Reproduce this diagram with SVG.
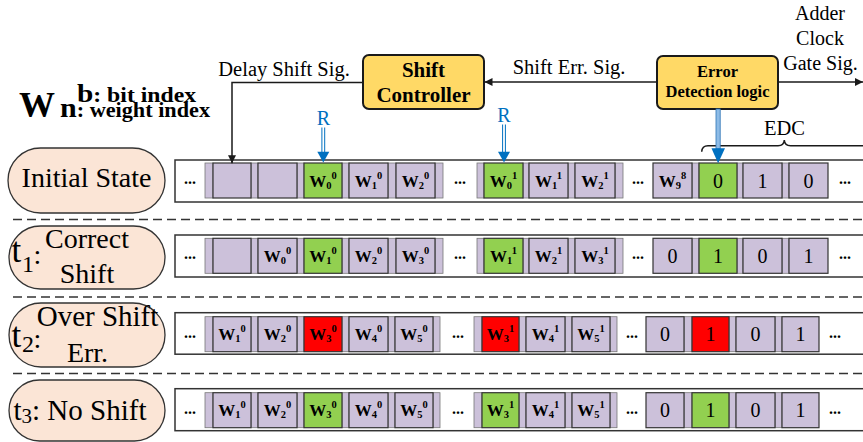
<svg xmlns="http://www.w3.org/2000/svg" width="863" height="442" viewBox="0 0 863 442" font-family="Liberation Serif, DejaVu Serif, serif">
<style>
text{font-family:Liberation Serif, DejaVu Serif, serif;fill:#000}
.bd{font-weight:bold}
.box{fill:#FFD966;stroke:#1a1a1a;stroke-width:2}
.oval{fill:#FBE5D6;stroke:#333;stroke-width:1.3}
.row{fill:#fff;stroke:#333;stroke-width:1.5}
.c{fill:#CCC1DA;stroke:#333;stroke-width:1.2}
.g{fill:#92D050}
.r{fill:#FF0000}
.s{fill:#CCC1DA;stroke:#777;stroke-width:0.8}
.dash{stroke:#333;stroke-width:1.5;stroke-dasharray:9 5;fill:none}
.w{font-size:17px;font-weight:bold;text-anchor:middle}
.sm{font-size:10.5px}
.d{font-size:20px;text-anchor:middle}
.dots{font-size:16px;font-weight:bold;text-anchor:middle}
.lbl{font-size:20.5px}
.conn{stroke:#1a1a1a;stroke-width:1.5;fill:none}
.blue{stroke:#0070C0;stroke-width:1;fill:none}
.bh{fill:#0070C0}
text.bt{fill:#0070C0}
</style>
<defs>
<marker id="ah" viewBox="0 0 10 10" refX="10" refY="5" markerWidth="8" markerHeight="8" markerUnits="userSpaceOnUse" orient="auto">
<path d="M0,0 L10,5 L0,10 z" fill="#1a1a1a"/>
</marker>
</defs>

<g id="legend">
<text class="bd" x="19" y="116.5" font-size="36">W</text>
<text class="bd" x="77" y="102" textLength="119" lengthAdjust="spacingAndGlyphs"><tspan font-size="26">b</tspan><tspan font-size="21">: bit index</tspan></text>
<text class="bd" x="60" y="116.5" textLength="150" lengthAdjust="spacingAndGlyphs"><tspan font-size="27">n</tspan><tspan font-size="20">: weight index</tspan></text>
</g>

<g id="shift-controller">
<rect class="box" x="363" y="55" width="121" height="54" rx="6"/>
<text class="bd" x="423.5" y="76.7" font-size="21" text-anchor="middle">Shift</text>
<text class="bd" x="423.5" y="101.5" font-size="21" text-anchor="middle">Controller</text>
</g>
<g id="error-detection">
<rect class="box" x="657" y="56" width="121" height="53" rx="6"/>
<text class="bd" x="717.5" y="76.7" font-size="16.5" text-anchor="middle">Error</text>
<text class="bd" x="717.5" y="96.7" font-size="16.5" text-anchor="middle">Detection logic</text>
</g>

<g id="state-initial">
<rect class="oval" x="8" y="148" width="157" height="65" rx="32.5"/>
<text x="86.5" y="186.7" font-size="28" text-anchor="middle">Initial State</text>
</g>
<g id="state-t1">
<rect class="oval" x="9" y="226" width="156" height="63" rx="31.5"/>
<text x="11.5" y="262" font-size="35">t</text>
<text x="22" y="271.7" font-size="24">1</text>
<text x="33.5" y="263.5" font-size="28">:</text>
<text x="87" y="248.3" font-size="28" text-anchor="middle">Correct</text>
<text x="87" y="282.7" font-size="28" text-anchor="middle">Shift</text>
</g>
<g id="state-t2">
<rect class="oval" x="9" y="303" width="156" height="64" rx="32"/>
<text x="11.5" y="346.7" font-size="35">t</text>
<text x="22" y="351.7" font-size="24">2</text>
<text x="33.5" y="348" font-size="28">:</text>
<text x="97.5" y="326" font-size="29" text-anchor="middle">Over Shift</text>
<text x="87.5" y="361.7" font-size="28" text-anchor="middle">Err.</text>
</g>
<g id="state-t3">
<rect class="oval" x="9" y="380" width="156" height="61" rx="30.5"/>
<text x="13.5" y="420" font-size="29">t<tspan font-size="21" dy="3">3</tspan><tspan dy="-3">: No Shift</tspan></text>
</g>

<g id="separators">
<line class="dash" x1="13" y1="219.5" x2="863" y2="219.5"/>
<line class="dash" x1="13" y1="297" x2="863" y2="297"/>
<line class="dash" x1="13" y1="373.5" x2="863" y2="373.5"/>
</g>

<g id="row-initial">
<rect class="row" x="175" y="160" width="700" height="42"/>
<text class="dots" x="190" y="184">...</text>
<rect class="s" x="205" y="163" width="8" height="35"/><rect class="s" x="251" y="163" width="7" height="35"/><rect class="s" x="297" y="163" width="7" height="35"/><rect class="s" x="342" y="163" width="7" height="35"/><rect class="s" x="388" y="163" width="8" height="35"/><rect class="s" x="435" y="163" width="8" height="35"/>
<rect class="c" x="213" y="163" width="38" height="35"/>
<rect class="c" x="258" y="163" width="39" height="35"/>
<rect class="c g" x="304" y="163" width="38" height="35"/>
<text class="w" x="323" y="186.7">W<tspan class="sm" dy="2">0</tspan><tspan class="sm" dy="-10">0</tspan></text>
<rect class="c" x="349" y="163" width="39" height="35"/>
<text class="w" x="368.5" y="186.7">W<tspan class="sm" dy="2">1</tspan><tspan class="sm" dy="-10">0</tspan></text>
<rect class="c" x="396" y="163" width="39" height="35"/>
<text class="w" x="415.5" y="186.7">W<tspan class="sm" dy="2">2</tspan><tspan class="sm" dy="-10">0</tspan></text>
<text class="dots" x="460" y="184">...</text>
<rect class="s" x="477" y="163" width="7" height="35"/><rect class="s" x="523" y="163" width="6" height="35"/><rect class="s" x="568" y="163" width="7" height="35"/><rect class="s" x="615" y="163" width="8" height="35"/>
<rect class="c g" x="484" y="163" width="39" height="35"/>
<text class="w" x="503.5" y="186.7">W<tspan class="sm" dy="2">0</tspan><tspan class="sm" dy="-10">1</tspan></text>
<rect class="c" x="529" y="163" width="39" height="35"/>
<text class="w" x="548.5" y="186.7">W<tspan class="sm" dy="2">1</tspan><tspan class="sm" dy="-10">1</tspan></text>
<rect class="c" x="575" y="163" width="40" height="35"/>
<text class="w" x="595" y="186.7">W<tspan class="sm" dy="2">2</tspan><tspan class="sm" dy="-10">1</tspan></text>
<text class="dots" x="638" y="184">...</text>
<rect class="s" x="692" y="163" width="7" height="35"/><rect class="s" x="737" y="163" width="6" height="35"/><rect class="s" x="782" y="163" width="7" height="35"/>
<rect class="c" x="653" y="163" width="39" height="35"/>
<text class="w" x="672.5" y="186.7">W<tspan class="sm" dy="2">9</tspan><tspan class="sm" dy="-10">8</tspan></text>
<rect class="c g" x="699" y="163" width="38" height="35"/>
<text class="d" x="718" y="187.7">0</text>
<rect class="c" x="743" y="163" width="39" height="35"/>
<text class="d" x="762.5" y="187.7">1</text>
<rect class="c" x="789" y="163" width="39" height="35"/>
<text class="d" x="808.5" y="187.7">0</text>
<text class="dots" x="845" y="184">...</text>
</g>

<g id="row-t1">
<rect class="row" x="175" y="235" width="700" height="42"/>
<text class="dots" x="190" y="259.3">...</text>
<rect class="s" x="205" y="238.3" width="8" height="35"/><rect class="s" x="251" y="238.3" width="7" height="35"/><rect class="s" x="297" y="238.3" width="7" height="35"/><rect class="s" x="342" y="238.3" width="7" height="35"/><rect class="s" x="388" y="238.3" width="8" height="35"/><rect class="s" x="435" y="238.3" width="8" height="35"/>
<rect class="c" x="213" y="238.3" width="38" height="35"/>
<rect class="c" x="258" y="238.3" width="39" height="35"/>
<text class="w" x="277.5" y="262">W<tspan class="sm" dy="2">0</tspan><tspan class="sm" dy="-10">0</tspan></text>
<rect class="c g" x="304" y="238.3" width="38" height="35"/>
<text class="w" x="323" y="262">W<tspan class="sm" dy="2">1</tspan><tspan class="sm" dy="-10">0</tspan></text>
<rect class="c" x="349" y="238.3" width="39" height="35"/>
<text class="w" x="368.5" y="262">W<tspan class="sm" dy="2">2</tspan><tspan class="sm" dy="-10">0</tspan></text>
<rect class="c" x="396" y="238.3" width="39" height="35"/>
<text class="w" x="415.5" y="262">W<tspan class="sm" dy="2">3</tspan><tspan class="sm" dy="-10">0</tspan></text>
<text class="dots" x="460" y="259.3">...</text>
<rect class="s" x="477" y="238.3" width="7" height="35"/><rect class="s" x="523" y="238.3" width="6" height="35"/><rect class="s" x="568" y="238.3" width="7" height="35"/><rect class="s" x="615" y="238.3" width="8" height="35"/>
<rect class="c g" x="484" y="238.3" width="39" height="35"/>
<text class="w" x="503.5" y="262">W<tspan class="sm" dy="2">1</tspan><tspan class="sm" dy="-10">1</tspan></text>
<rect class="c" x="529" y="238.3" width="39" height="35"/>
<text class="w" x="548.5" y="262">W<tspan class="sm" dy="2">2</tspan><tspan class="sm" dy="-10">1</tspan></text>
<rect class="c" x="575" y="238.3" width="40" height="35"/>
<text class="w" x="595" y="262">W<tspan class="sm" dy="2">3</tspan><tspan class="sm" dy="-10">1</tspan></text>
<text class="dots" x="638" y="259.3">...</text>
<rect class="s" x="692" y="238.3" width="7" height="35"/><rect class="s" x="737" y="238.3" width="6" height="35"/><rect class="s" x="782" y="238.3" width="7" height="35"/>
<rect class="c" x="653" y="238.3" width="39" height="35"/>
<text class="d" x="672.5" y="263">0</text>
<rect class="c g" x="699" y="238.3" width="38" height="35"/>
<text class="d" x="718" y="263">1</text>
<rect class="c" x="743" y="238.3" width="39" height="35"/>
<text class="d" x="762.5" y="263">0</text>
<rect class="c" x="789" y="238.3" width="39" height="35"/>
<text class="d" x="808.5" y="263">1</text>
<text class="dots" x="845" y="259.3">...</text>
</g>

<g id="row-t2">
<rect class="row" x="175" y="312.7" width="700" height="41.5"/>
<text class="dots" x="190" y="337.7">...</text>
<rect class="s" x="205" y="316.7" width="8" height="35"/><rect class="s" x="251" y="316.7" width="7" height="35"/><rect class="s" x="297" y="316.7" width="7" height="35"/><rect class="s" x="342" y="316.7" width="7" height="35"/><rect class="s" x="388" y="316.7" width="7" height="35"/><rect class="s" x="433" y="316.7" width="7" height="35"/>
<rect class="c" x="213" y="316.7" width="38" height="35"/>
<text class="w" x="232" y="340.4">W<tspan class="sm" dy="2">1</tspan><tspan class="sm" dy="-10">0</tspan></text>
<rect class="c" x="258" y="316.7" width="39" height="35"/>
<text class="w" x="277.5" y="340.4">W<tspan class="sm" dy="2">2</tspan><tspan class="sm" dy="-10">0</tspan></text>
<rect class="c r" x="304" y="316.7" width="38" height="35"/>
<text class="w" x="323" y="340.4">W<tspan class="sm" dy="2">3</tspan><tspan class="sm" dy="-10">0</tspan></text>
<rect class="c" x="349" y="316.7" width="39" height="35"/>
<text class="w" x="368.5" y="340.4">W<tspan class="sm" dy="2">4</tspan><tspan class="sm" dy="-10">0</tspan></text>
<rect class="c" x="395" y="316.7" width="38" height="35"/>
<text class="w" x="414" y="340.4">W<tspan class="sm" dy="2">5</tspan><tspan class="sm" dy="-10">0</tspan></text>
<text class="dots" x="458" y="337.7">...</text>
<rect class="s" x="474" y="316.7" width="8" height="35"/><rect class="s" x="519" y="316.7" width="7" height="35"/><rect class="s" x="565" y="316.7" width="7" height="35"/><rect class="s" x="610" y="316.7" width="7" height="35"/>
<rect class="c r" x="482" y="316.7" width="37" height="35"/>
<text class="w" x="500.5" y="340.4">W<tspan class="sm" dy="2">3</tspan><tspan class="sm" dy="-10">1</tspan></text>
<rect class="c" x="526" y="316.7" width="39" height="35"/>
<text class="w" x="545.5" y="340.4">W<tspan class="sm" dy="2">4</tspan><tspan class="sm" dy="-10">1</tspan></text>
<rect class="c" x="572" y="316.7" width="38" height="35"/>
<text class="w" x="591" y="340.4">W<tspan class="sm" dy="2">5</tspan><tspan class="sm" dy="-10">1</tspan></text>
<text class="dots" x="632" y="337.7">...</text>
<rect class="s" x="684" y="316.7" width="8" height="35"/><rect class="s" x="729" y="316.7" width="7" height="35"/><rect class="s" x="775" y="316.7" width="7" height="35"/>
<rect class="c" x="646" y="316.7" width="38" height="35"/>
<text class="d" x="665" y="341.4">0</text>
<rect class="c r" x="692" y="316.7" width="37" height="35"/>
<text class="d" x="710.5" y="341.4">1</text>
<rect class="c" x="736" y="316.7" width="39" height="35"/>
<text class="d" x="755.5" y="341.4">0</text>
<rect class="c" x="782" y="316.7" width="37" height="35"/>
<text class="d" x="800.5" y="341.4">1</text>
<text class="dots" x="835" y="337.7">...</text>
</g>

<g id="row-t3">
<rect class="row" x="175" y="388.7" width="700" height="42"/>
<text class="dots" x="190" y="413.7">...</text>
<rect class="s" x="205" y="392.7" width="8" height="35"/><rect class="s" x="251" y="392.7" width="7" height="35"/><rect class="s" x="297" y="392.7" width="7" height="35"/><rect class="s" x="342" y="392.7" width="7" height="35"/><rect class="s" x="388" y="392.7" width="7" height="35"/><rect class="s" x="433" y="392.7" width="7" height="35"/>
<rect class="c" x="213" y="392.7" width="38" height="35"/>
<text class="w" x="232" y="416.4">W<tspan class="sm" dy="2">1</tspan><tspan class="sm" dy="-10">0</tspan></text>
<rect class="c" x="258" y="392.7" width="39" height="35"/>
<text class="w" x="277.5" y="416.4">W<tspan class="sm" dy="2">2</tspan><tspan class="sm" dy="-10">0</tspan></text>
<rect class="c g" x="304" y="392.7" width="38" height="35"/>
<text class="w" x="323" y="416.4">W<tspan class="sm" dy="2">3</tspan><tspan class="sm" dy="-10">0</tspan></text>
<rect class="c" x="349" y="392.7" width="39" height="35"/>
<text class="w" x="368.5" y="416.4">W<tspan class="sm" dy="2">4</tspan><tspan class="sm" dy="-10">0</tspan></text>
<rect class="c" x="395" y="392.7" width="38" height="35"/>
<text class="w" x="414" y="416.4">W<tspan class="sm" dy="2">5</tspan><tspan class="sm" dy="-10">0</tspan></text>
<text class="dots" x="458" y="413.7">...</text>
<rect class="s" x="474" y="392.7" width="8" height="35"/><rect class="s" x="519" y="392.7" width="7" height="35"/><rect class="s" x="565" y="392.7" width="7" height="35"/><rect class="s" x="610" y="392.7" width="7" height="35"/>
<rect class="c g" x="482" y="392.7" width="37" height="35"/>
<text class="w" x="500.5" y="416.4">W<tspan class="sm" dy="2">3</tspan><tspan class="sm" dy="-10">1</tspan></text>
<rect class="c" x="526" y="392.7" width="39" height="35"/>
<text class="w" x="545.5" y="416.4">W<tspan class="sm" dy="2">4</tspan><tspan class="sm" dy="-10">1</tspan></text>
<rect class="c" x="572" y="392.7" width="38" height="35"/>
<text class="w" x="591" y="416.4">W<tspan class="sm" dy="2">5</tspan><tspan class="sm" dy="-10">1</tspan></text>
<text class="dots" x="632" y="413.7">...</text>
<rect class="s" x="684" y="392.7" width="8" height="35"/><rect class="s" x="729" y="392.7" width="7" height="35"/><rect class="s" x="775" y="392.7" width="7" height="35"/>
<rect class="c" x="646" y="392.7" width="38" height="35"/>
<text class="d" x="665" y="417.4">0</text>
<rect class="c g" x="692" y="392.7" width="37" height="35"/>
<text class="d" x="710.5" y="417.4">1</text>
<rect class="c" x="736" y="392.7" width="39" height="35"/>
<text class="d" x="755.5" y="417.4">0</text>
<rect class="c" x="782" y="392.7" width="37" height="35"/>
<text class="d" x="800.5" y="417.4">1</text>
<text class="dots" x="835" y="413.7">...</text>
</g>

<g id="edc">
<path class="conn" d="M701.7,151.7 Q702,145.7 708,145.7 L778,145.7 Q784,145.7 784.3,140 Q784.6,145.7 790.6,145.7 L870,145.7" stroke-width="1.3"/>
<text class="lbl" x="784.5" y="135" text-anchor="middle">EDC</text>
</g>

<g id="connectors">
<polyline class="conn" points="363,82.5 232,82.5 232,163.3" marker-end="url(#ah)"/>
<text class="lbl" x="218.3" y="76">Delay Shift Sig.</text>
<line class="conn" x1="657" y1="82" x2="484.5" y2="82" marker-end="url(#ah)"/>
<text class="lbl" x="512.7" y="74">Shift Err. Sig.</text>
<line class="conn" x1="778" y1="82" x2="863" y2="82" marker-end="url(#ah)"/>
<text font-size="20" x="820" y="19.5" text-anchor="middle">Adder</text>
<text font-size="20" x="820" y="45" text-anchor="middle">Clock</text>
<text font-size="20" x="820.5" y="70" text-anchor="middle">Gate Sig.</text>
<text class="bt" font-size="20" x="323.3" y="125" text-anchor="middle">R</text>
<line class="blue" x1="321.9" y1="127.5" x2="321.9" y2="152"/>
<line class="blue" x1="324.7" y1="127.5" x2="324.7" y2="152"/>
<polygon class="bh" points="317.3,151.7 329.3,151.7 323.3,162.5"/>
<text class="bt" font-size="20" x="504" y="122" text-anchor="middle">R</text>
<line class="blue" x1="502.6" y1="124.5" x2="502.6" y2="152"/>
<line class="blue" x1="505.4" y1="124.5" x2="505.4" y2="152"/>
<polygon class="bh" points="498,151.7 510,151.7 504,162.5"/>
<rect x="716" y="109" width="4.2" height="40" fill="#8DBBE6" stroke="#2E75B6" stroke-width="0.8"/>
<polygon class="bh" points="711.5,148.3 725,148.3 718.1,163.3"/>
</g>
</svg>
